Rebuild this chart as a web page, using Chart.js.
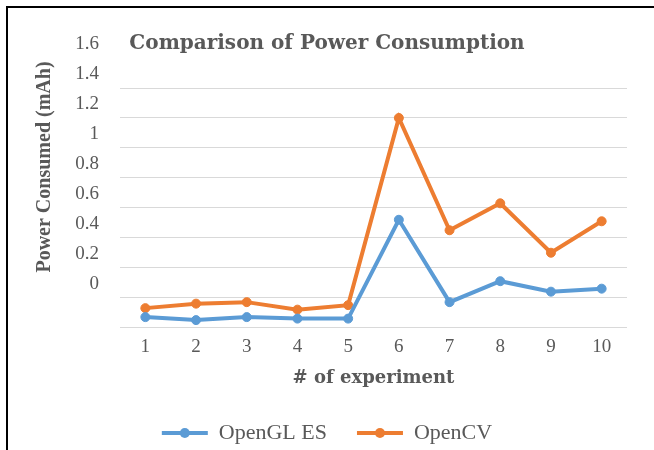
<!DOCTYPE html>
<html>
<head>
<meta charset="utf-8">
<script src="https://cdn.jsdelivr.net/npm/chart.js@4"></script>
<style>
  html, body { margin: 0; padding: 0; background: #fff; }
  #wrap { position: relative; width: 654px; height: 450px; overflow: hidden; }
  #frame { position: absolute; left: 6px; top: 6px; width: 700px; height: 500px;
           border-left: 2px solid #000; border-top: 2px solid #000; }
  #myChart { position: absolute; left: 0; top: 0; }
</style>
</head>
<body>
<div id="wrap">
  <div id="frame"></div>
  <canvas id="myChart" width="654" height="450"></canvas>
</div>
<script>
const experiments = ['1', '2', '3', '4', '5', '6', '7', '8', '9', '10'];
const openglEs = [0.07, 0.05, 0.07, 0.06, 0.06, 0.72, 0.17, 0.31, 0.24, 0.26];
const openCv = [0.13, 0.16, 0.17, 0.12, 0.15, 1.40, 0.65, 0.83, 0.50, 0.71];
const yTickValues = [0, 0.2, 0.4, 0.6, 0.8, 1, 1.2, 1.4, 1.6];
const yTickLabels = ['0', '0.2', '0.4', '0.6', '0.8', '1', '1.2', '1.4', '1.6'];

const grey = '#595959';
const blue = '#5B9BD5';
const orange = '#ED7D31';

// y axis title + legend dots drawn by hand
const extras = {
    id: 'extras',
    afterDraw(chart) {
        const c = chart.ctx;
        c.save();
        c.translate(45, 167);
        c.rotate(-Math.PI / 2);
        c.font = 'bold 20px "Liberation Serif"';
        c.fillStyle = grey;
        c.textAlign = 'center';
        c.textBaseline = 'middle';
        c.fillText('Power Consumed (mAh)', 0, 0);
        c.restore();

        const lg = chart.legend;
        const opts = lg.options.labels;
        lg.legendHitBoxes.forEach((box, i) => {
            c.save();
            c.beginPath();
            c.fillStyle = chart.data.datasets[i].borderColor;
            c.arc(box.left + opts.boxWidth / 2, box.top + opts.font.size / 2, 5, 0, Math.PI * 2);
            c.fill();
            c.restore();
        });
    }
};

new Chart(document.getElementById('myChart'), {
    type: 'line',
    data: {
        labels: experiments,
        datasets: [{
            label: 'OpenGL ES',
            data: openglEs,
            borderColor: blue,
            backgroundColor: blue,
            borderWidth: 4,
            pointRadius: 4.5,
            pointBorderWidth: 1,
            tension: 0
        }, {
            label: 'OpenCV',
            data: openCv,
            borderColor: orange,
            backgroundColor: orange,
            borderWidth: 4,
            pointRadius: 4.5,
            pointBorderWidth: 1,
            tension: 0
        }]
    },
    options: {
        responsive: false,
        animation: false,
        layout: { padding: { top: 22, left: 27, right: 27, bottom: -4 } },
        scales: {
            x: {
                offset: true,
                grid: { display: false },
                border: { display: false },
                ticks: {
                    color: grey,
                    padding: 0,
                    font: { family: 'Liberation Serif', size: 19 }
                },
                title: {
                    display: true,
                    text: '# of experiment',
                    color: grey,
                    padding: { top: 9, bottom: 3 },
                    font: { family: 'DejaVu Serif', size: 18, weight: 'bold' }
                }
            },
            y: {
                min: 0,
                max: 1.6,
                afterBuildTicks: function(scale) {
                    scale.ticks = yTickValues.map(v => ({ value: v }));
                },
                afterFit: function(scale) {
                    scale.width = 93;
                },
                grid: { color: '#D9D9D9', lineWidth: 1, drawTicks: false },
                border: { display: false },
                ticks: {
                    color: grey,
                    padding: 21,
                    labelOffset: -44,
                    font: { family: 'Liberation Serif', size: 19 },
                    callback: function(value, index) {
                        return yTickLabels[index];
                    }
                }
            }
        },
        plugins: {
            title: {
                display: true,
                text: 'Comparison of Power Consumption',
                color: grey,
                padding: { top: 10, bottom: 32 },
                font: { family: 'DejaVu Serif', size: 20, weight: 'bold' }
            },
            legend: {
                position: 'bottom',
                labels: {
                    color: grey,
                    boxWidth: 46,
                    boxHeight: 4,
                    padding: 30,
                    font: { family: 'Liberation Serif', size: 22 },
                    generateLabels: function(chart) {
                        const items = Chart.defaults.plugins.legend.labels.generateLabels(chart);
                        items.forEach(it => { it.lineWidth = 0; });
                        return items;
                    }
                }
            },
            tooltip: { enabled: false }
        }
    },
    plugins: [extras]
});
</script>
</body>
</html>
